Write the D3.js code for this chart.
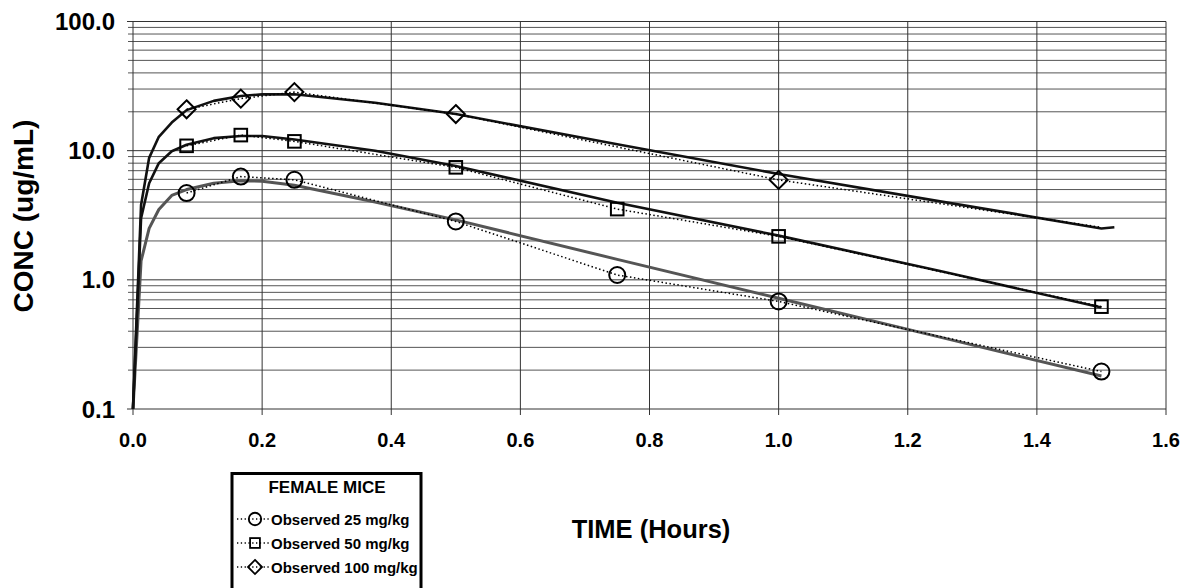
<!DOCTYPE html>
<html>
<head>
<meta charset="utf-8">
<script src="https://cdn.jsdelivr.net/npm/d3@7"></script>
<style>
  html, body { margin: 0; padding: 0; background: #fff; }
  svg { display: block; font-family: "Liberation Sans", Arial, sans-serif; font-weight: bold; }
</style>
</head>
<body>
<svg id="chart" width="1188" height="588"></svg>
<script>
// observed concentrations (ug/mL)
const obsTimes25 = [0.083, 0.167, 0.25, 0.5, 0.75, 1.0, 1.5];
const obs25 = [4.7, 6.3, 5.95, 2.83, 1.09, 0.68, 0.195];
const obsTimes50 = [0.083, 0.167, 0.25, 0.5, 0.75, 1.0, 1.5];
const obs50 = [10.9, 13.2, 11.8, 7.43, 3.53, 2.17, 0.62];
const obsTimes100 = [0.083, 0.167, 0.25, 0.5, 1.0, 1.5];
const obs100 = [20.9, 25.3, 28.4, 19.2, 5.94, 2.55];
const markerShown100 = [true, true, true, true, true, false];

// fitted curves
const fitTimes = [0, 0.0125, 0.025, 0.04, 0.06, 0.083, 0.125, 0.167, 0.2, 0.25, 0.375, 0.5, 0.75, 1.0, 1.25, 1.5];
const fit25 = [0.1, 1.4, 2.5, 3.5, 4.5, 5.0, 5.6, 5.85, 5.8, 5.4, 4.0, 2.91, 1.44, 0.72, 0.36, 0.18];
const fit50 = [0.1, 3.0, 5.6, 8.0, 9.9, 11.1, 12.5, 13.0, 13.0, 12.2, 10.0, 7.6, 3.95, 2.2, 1.17, 0.61];
const fitTimes100 = [0, 0.0125, 0.025, 0.04, 0.06, 0.083, 0.125, 0.167, 0.2, 0.25, 0.375, 0.5, 0.75, 1.0, 1.25, 1.5, 1.52];
const fit100 = [0.1, 3.8, 8.8, 12.8, 16.5, 20.6, 24.3, 26.5, 27.3, 27.3, 23.5, 19.2, 11.2, 6.6, 4.05, 2.5, 2.55];

const xTicks = [0, 0.2, 0.4, 0.6, 0.8, 1.0, 1.2, 1.4, 1.6];
const yMajor = [0.1, 1, 10, 100];
const legendLabels = ["Observed 25 mg/kg", "Observed 50 mg/kg", "Observed 100 mg/kg"];
const markerTypes = ["circle", "square", "diamond"];

const svg = d3.select("#chart");
const x = d3.scaleLinear().domain([0, 1.6]).range([133, 1166]);
const y = d3.scaleLog().domain([0.1, 100]).range([409, 21.5]);

// minor gridlines 2..9 each decade
const yMinor = [];
[0.1, 1, 10].forEach(base => {
  for (let k = 2; k <= 9; k++) yMinor.push(base * k);
});

const grid = svg.append("g");
grid.selectAll(".hminor")
  .data(yMinor)
  .join("line")
  .attr("x1", x(0) - 5).attr("x2", x(1.6))
  .attr("y1", d => y(d)).attr("y2", d => y(d))
  .attr("stroke", "#555").attr("stroke-width", 1);

grid.selectAll(".hmajor")
  .data(yMajor)
  .join("line")
  .attr("x1", x(0) - 6).attr("x2", x(1.6))
  .attr("y1", d => y(d)).attr("y2", d => y(d))
  .attr("stroke", "#333").attr("stroke-width", 1);

grid.selectAll(".vgrid")
  .data(xTicks)
  .join("line")
  .attr("x1", d => x(d)).attr("x2", d => x(d))
  .attr("y1", y(100)).attr("y2", y(0.1) + 6)
  .attr("stroke", "#333").attr("stroke-width", 1);

// tick labels
svg.append("g").selectAll("text")
  .data(yMajor)
  .join("text")
  .attr("x", 115)
  .attr("y", d => y(d))
  .attr("dy", "0.36em")
  .attr("text-anchor", "end")
  .attr("font-size", 24)
  .text(d => d3.format(".1f")(d));

svg.append("g").selectAll("text")
  .data(xTicks)
  .join("text")
  .attr("x", d => x(d))
  .attr("y", 447)
  .attr("text-anchor", "middle")
  .attr("font-size", 20)
  .text(d => d3.format(".1f")(d));

// axis titles
svg.append("text")
  .attr("transform", "translate(33,216) rotate(-90)")
  .attr("text-anchor", "middle")
  .attr("font-size", 28)
  .text("CONC (ug/mL)");

svg.append("text")
  .attr("x", 651)
  .attr("y", 538)
  .attr("text-anchor", "middle")
  .attr("font-size", 25.5)
  .text("TIME (Hours)");

// fitted lines
const line = d3.line().x(d => x(d[0])).y(d => y(d[1]));
const fits = [
  { t: fitTimes, v: fit25, color: "#555", w: 3 },
  { t: fitTimes, v: fit50, color: "#111", w: 2.6 },
  { t: fitTimes100, v: fit100, color: "#111", w: 2.6 }
];
svg.append("g").selectAll("path")
  .data(fits)
  .join("path")
  .attr("d", d => line(d.t.map((t, i) => [t, d.v[i]])))
  .attr("fill", "none")
  .attr("stroke", d => d.color)
  .attr("stroke-width", d => d.w)
  .attr("stroke-linejoin", "round");

// observed series
const observed = [
  { t: obsTimes25, v: obs25, type: "circle", show: obs25.map(() => true) },
  { t: obsTimes50, v: obs50, type: "square", show: obs50.map(() => true) },
  { t: obsTimes100, v: obs100, type: "diamond", show: markerShown100 }
];

svg.append("g").selectAll("path")
  .data(observed)
  .join("path")
  .attr("d", d => line(d.t.map((t, i) => [t, d.v[i]])))
  .attr("fill", "none")
  .attr("stroke", "#000")
  .attr("stroke-width", 1.5)
  .attr("stroke-dasharray", "1.5,2.5");

function drawMarker(g, type, cx, cy, s) {
  if (type === "circle") {
    g.append("circle").attr("cx", cx).attr("cy", cy).attr("r", 8 * s);
  } else if (type === "square") {
    const h = 6.3 * s;
    g.append("rect").attr("x", cx - h).attr("y", cy - h).attr("width", 2 * h).attr("height", 2 * h);
  } else {
    const h = 9 * s;
    g.append("path").attr("d", `M${cx},${cy - h}L${cx + h},${cy}L${cx},${cy + h}L${cx - h},${cy}Z`);
  }
}

const markers = svg.append("g")
  .attr("fill", "none")
  .attr("stroke", "#000")
  .attr("stroke-width", 2);

observed.forEach(series => {
  series.t.forEach((t, i) => {
    if (series.show[i]) drawMarker(markers, series.type, x(t), y(series.v[i]), 1);
  });
});

// legend
const legend = svg.append("g");
legend.append("rect")
  .attr("x", 232).attr("y", 473.5)
  .attr("width", 189).attr("height", 130)
  .attr("fill", "#fff")
  .attr("stroke", "#000")
  .attr("stroke-width", 3);

legend.append("text")
  .attr("x", 327).attr("y", 493)
  .attr("text-anchor", "middle")
  .attr("font-size", 17)
  .text("FEMALE MICE");

legendLabels.forEach((label, i) => {
  const rowY = 519 + i * 24;
  legend.append("line")
    .attr("x1", 237).attr("x2", 269)
    .attr("y1", rowY).attr("y2", rowY)
    .attr("stroke", "#000")
    .attr("stroke-width", 1.3)
    .attr("stroke-dasharray", "1.3,2.5");
  const mg = legend.append("g")
    .attr("fill", "none")
    .attr("stroke", "#000")
    .attr("stroke-width", 1.8);
  drawMarker(mg, markerTypes[i], 255, rowY, 0.78);
  legend.append("text")
    .attr("x", 271).attr("y", rowY + 5.5)
    .attr("font-size", 15)
    .text(label);
});
</script>
</body>
</html>
